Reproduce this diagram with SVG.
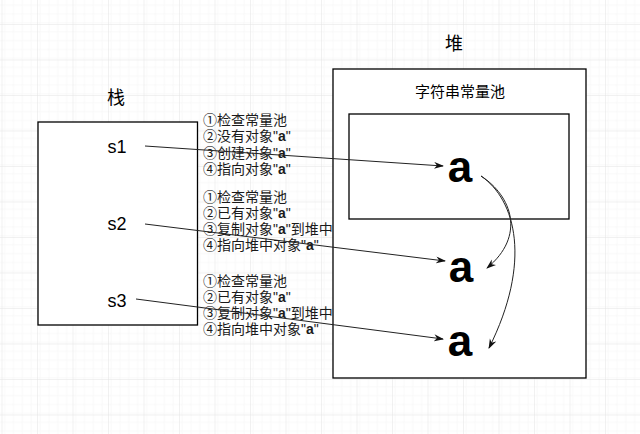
<svg xmlns="http://www.w3.org/2000/svg" width="640" height="434" viewBox="0 0 640 434">
<style>
  .t{font-family:"Liberation Sans","Noto Sans CJK SC",sans-serif;fill:#000}
  .lbl{font-size:14px;fill:#1a1a1a}
  .n{font-family:"Noto Sans CJK SC",sans-serif}
  .b{font-weight:bold}
  .box{fill:#fff;stroke:#000;stroke-width:1.3}
  .big{font-size:44px;font-weight:bold}
  .con{fill:none;stroke:#222;stroke-width:1}
</style>
<defs>
  <pattern id="minor" width="8.875" height="8.875" patternUnits="userSpaceOnUse" x="2.5" y="25">
    <path d="M8.875 0V8.875H0" fill="none" stroke="#f4f4f4" stroke-width="1"/>
  </pattern>
  <pattern id="major" width="35.5" height="35.5" patternUnits="userSpaceOnUse" x="2.5" y="25">
    <rect width="35.5" height="35.5" fill="url(#minor)"/>
    <path d="M35.5 0V35.5H0" fill="none" stroke="#e4e4e4" stroke-width="1"/>
  </pattern>
  <marker id="arr" markerWidth="10" markerHeight="8" refX="9" refY="3.5" orient="auto" markerUnits="userSpaceOnUse">
    <path d="M0,0 L10,3.5 L0,7 L3,3.5 z" fill="#111"/>
  </marker>
</defs>
<rect width="640" height="434" fill="#fff"/>
<rect width="640" height="434" fill="url(#major)"/>

<g id="stack">
  <text class="t" x="116" y="104" font-size="18" text-anchor="middle">栈</text>
  <rect class="box" x="38" y="122" width="159.5" height="203"/>
  <text class="t" x="117" y="153" font-size="18" text-anchor="middle">s1</text>
  <text class="t" x="117" y="230" font-size="18" text-anchor="middle">s2</text>
  <text class="t" x="117" y="307" font-size="18" text-anchor="middle">s3</text>
</g>

<g id="heap">
  <text class="t" x="454" y="50" font-size="18" text-anchor="middle">堆</text>
  <rect class="box" x="333" y="69" width="253" height="309"/>
  <text class="t" x="460" y="97" font-size="15" text-anchor="middle">字符串常量池</text>
  <rect class="box" x="349" y="114" width="220" height="105"/>
</g>

<g id="a1"><text class="t big" x="460" y="182" text-anchor="middle">a</text></g>
<g id="a2"><text class="t big" x="461" y="282" text-anchor="middle">a</text></g>
<g id="a3"><text class="t big" x="460" y="356" text-anchor="middle">a</text></g>

<g id="note1" class="t lbl">
  <text x="203" y="125"><tspan class="n">①</tspan>检查常量池</text>
  <text x="203" y="141.3"><tspan class="n">②</tspan>没有对象"<tspan class="b">a</tspan>"</text>
  <text x="203" y="157.6"><tspan class="n">③</tspan>创建对象"<tspan class="b">a</tspan>"</text>
  <text x="203" y="174"><tspan class="n">④</tspan>指向对象"<tspan class="b">a</tspan>"</text>
</g>
<g id="note2" class="t lbl">
  <text x="203" y="202"><tspan class="n">①</tspan>检查常量池</text>
  <text x="203" y="218"><tspan class="n">②</tspan>已有对象"<tspan class="b">a</tspan>"</text>
  <text x="203" y="234"><tspan class="n">③</tspan>复制对象"<tspan class="b">a</tspan>"到堆中</text>
  <text x="203" y="250"><tspan class="n">④</tspan>指向堆中对象"<tspan class="b">a</tspan>"</text>
</g>
<g id="note3" class="t lbl">
  <text x="203" y="286"><tspan class="n">①</tspan>检查常量池</text>
  <text x="203" y="302"><tspan class="n">②</tspan>已有对象"<tspan class="b">a</tspan>"</text>
  <text x="203" y="318"><tspan class="n">③</tspan>复制对象"<tspan class="b">a</tspan>"到堆中</text>
  <text x="203" y="334"><tspan class="n">④</tspan>指向堆中对象"<tspan class="b">a</tspan>"</text>
</g>

<g id="connectors">
  <path class="con" d="M145,146 L443,166" marker-end="url(#arr)"/>
  <path class="con" d="M145,224 L445,261" marker-end="url(#arr)"/>
  <path class="con" d="M136,299 L443,339" marker-end="url(#arr)"/>
  <path class="con" d="M481,176 C512,196 526,236 487,268" marker-end="url(#arr)"/>
  <path class="con" d="M481,176 C516,200 532,262 489,348" marker-end="url(#arr)"/>
</g>
</svg>
